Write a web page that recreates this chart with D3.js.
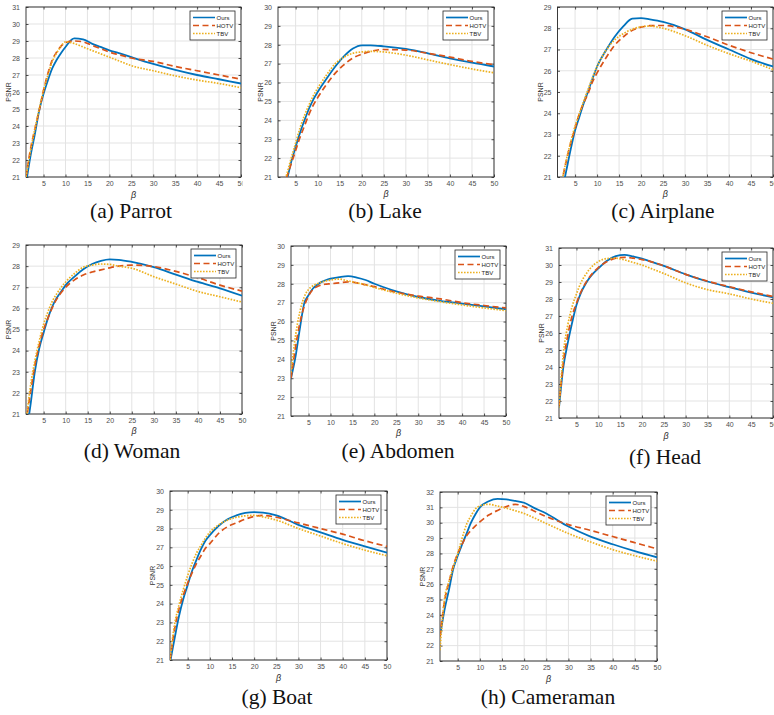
<!doctype html>
<html>
<head>
<meta charset="utf-8">
<script src="https://d3js.org/d3.v7.min.js"></script>
<style>
    body { margin: 0; background: #fff; }
    .tick text { fill: #4d4d4d; font-family: Arial, "Liberation Sans", sans-serif; font-size: 7px; }
    .caption { font-family: "Times New Roman", "Liberation Serif", serif; font-size: 21.5px; fill: #111; }
</style>
</head>
<body>
<svg width="774" height="715"></svg>
<script>
var beta = [1, 2, 3, 4, 5, 6, 7, 8, 9, 10, 12, 14, 16, 18, 20, 22, 25, 30, 35, 40, 45, 50];
var seriesNames = ["Ours", "HOTV", "TBV"];
var xTicks = [5, 10, 15, 20, 25, 30, 35, 40, 45, 50];

var parrotOurs = [20.6, 22.2, 23.5, 24.9, 25.9, 26.7, 27.4, 27.9, 28.3, 28.65, 29.15, 29.1, 28.85, 28.65, 28.45, 28.3, 28.05, 27.65, 27.3, 27.0, 26.75, 26.5];
var parrotHOTV = [21.0, 22.6, 23.8, 24.9, 26.1, 27.1, 27.9, 28.35, 28.7, 28.9, 29.0, 28.95, 28.75, 28.55, 28.35, 28.2, 28.0, 27.8, 27.5, 27.25, 27.0, 26.75];
var parrotTBV = [21.0, 22.5, 23.8, 25.0, 26.1, 27.0, 27.8, 28.3, 28.7, 28.95, 28.85, 28.65, 28.45, 28.25, 28.05, 27.85, 27.55, 27.25, 26.95, 26.7, 26.5, 26.25];

var lakeOurs = [19.4, 20.2, 20.85, 21.8, 22.6, 23.35, 24.0, 24.6, 25.1, 25.5, 26.2, 26.85, 27.4, 27.8, 27.97, 27.97, 27.92, 27.78, 27.55, 27.28, 27.05, 26.85];
var lakeHOTV = [19.5, 20.3, 21.0, 21.7, 22.4, 23.1, 23.7, 24.3, 24.8, 25.2, 25.9, 26.5, 26.95, 27.3, 27.5, 27.65, 27.75, 27.72, 27.55, 27.35, 27.12, 26.95];
var lakeTBV = [19.7, 20.4, 21.15, 22.0, 22.8, 23.6, 24.25, 24.8, 25.3, 25.7, 26.4, 27.0, 27.35, 27.55, 27.62, 27.65, 27.62, 27.45, 27.2, 26.95, 26.72, 26.52];

var airplaneOurs = [19.3, 20.3, 21.3, 22.3, 23.2, 23.85, 24.5, 25.05, 25.65, 26.2, 26.95, 27.6, 28.1, 28.45, 28.48, 28.42, 28.3, 27.95, 27.45, 27.0, 26.55, 26.2];
var airplaneHOTV = [19.8, 20.8, 21.75, 22.6, 23.3, 24.0, 24.5, 24.95, 25.5, 25.9, 26.6, 27.2, 27.6, 27.9, 28.05, 28.12, 28.13, 27.95, 27.6, 27.2, 26.85, 26.55];
var airplaneTBV = [19.8, 20.8, 21.8, 22.65, 23.4, 24.0, 24.6, 25.15, 25.7, 26.2, 26.95, 27.45, 27.75, 27.95, 28.07, 28.1, 28.0, 27.65, 27.2, 26.8, 26.45, 26.05];

var womanOurs = [20.0, 21.4, 23.0, 24.1, 24.85, 25.55, 26.1, 26.5, 26.8, 27.1, 27.5, 27.85, 28.1, 28.25, 28.32, 28.3, 28.2, 27.95, 27.6, 27.25, 26.95, 26.6];
var womanHOTV = [20.6, 22.0, 23.3, 24.25, 25.0, 25.55, 26.05, 26.45, 26.75, 27.0, 27.35, 27.58, 27.72, 27.82, 27.92, 28.0, 28.05, 27.98, 27.75, 27.45, 27.1, 26.82];
var womanTBV = [20.6, 22.3, 23.5, 24.45, 25.25, 25.85, 26.35, 26.7, 27.0, 27.25, 27.65, 27.95, 28.05, 28.1, 28.08, 28.0, 27.9, 27.5, 27.15, 26.8, 26.55, 26.3];

var abdomenOurs = [23.0, 24.1, 25.6, 26.95, 27.4, 27.75, 27.95, 28.1, 28.2, 28.27, 28.35, 28.4, 28.33, 28.2, 28.0, 27.83, 27.6, 27.3, 27.1, 26.95, 26.8, 26.65];
var abdomenHOTV = [23.0, 24.6, 25.9, 26.8, 27.35, 27.7, 27.85, 27.95, 27.98, 28.0, 28.05, 28.1, 28.05, 27.95, 27.85, 27.72, 27.55, 27.35, 27.2, 27.0, 26.85, 26.72];
var abdomenTBV = [23.3, 25.2, 26.5, 27.3, 27.7, 27.9, 28.0, 28.1, 28.15, 28.2, 28.25, 28.15, 28.05, 27.95, 27.8, 27.68, 27.5, 27.25, 27.05, 26.88, 26.72, 26.58];

var headOurs = [21.6, 24.0, 25.4, 26.6, 27.65, 28.35, 28.85, 29.25, 29.55, 29.8, 30.25, 30.52, 30.6, 30.5, 30.38, 30.2, 29.95, 29.45, 29.03, 28.7, 28.38, 28.1];
var headHOTV = [21.7, 24.3, 25.85, 27.0, 27.75, 28.4, 28.9, 29.3, 29.6, 29.85, 30.2, 30.4, 30.45, 30.4, 30.32, 30.2, 29.95, 29.45, 29.05, 28.72, 28.42, 28.15];
var headTBV = [21.6, 24.8, 26.45, 27.55, 28.3, 28.95, 29.4, 29.75, 30.02, 30.2, 30.38, 30.4, 30.3, 30.15, 30.0, 29.8, 29.5, 28.95, 28.55, 28.3, 28.0, 27.75];

var boatOurs = [20.85, 22.1, 23.3, 24.25, 25.0, 25.75, 26.35, 26.9, 27.35, 27.65, 28.15, 28.5, 28.7, 28.83, 28.88, 28.85, 28.7, 28.2, 27.8, 27.4, 27.05, 26.72];
var boatHOTV = [21.0, 22.6, 23.7, 24.45, 25.1, 25.65, 26.15, 26.55, 26.95, 27.2, 27.75, 28.1, 28.3, 28.5, 28.65, 28.7, 28.6, 28.3, 28.0, 27.7, 27.35, 27.05];
var boatTBV = [21.0, 22.85, 23.9, 24.75, 25.5, 26.15, 26.7, 27.1, 27.5, 27.8, 28.2, 28.45, 28.6, 28.68, 28.7, 28.62, 28.45, 28.0, 27.6, 27.2, 26.85, 26.55];

var cameramanOurs = [22.6, 24.3, 25.6, 27.0, 27.85, 28.6, 29.3, 30.0, 30.55, 31.0, 31.4, 31.55, 31.52, 31.42, 31.3, 31.0, 30.6, 29.75, 29.1, 28.6, 28.15, 27.75];
var cameramanHOTV = [22.6, 24.85, 26.1, 27.2, 28.0, 28.6, 29.15, 29.5, 29.8, 30.05, 30.5, 30.8, 31.05, 31.2, 31.05, 30.8, 30.4, 29.88, 29.5, 29.1, 28.7, 28.3];
var cameramanTBV = [21.7, 25.0, 26.15, 27.1, 28.0, 29.0, 29.9, 30.45, 30.9, 31.1, 31.2, 31.08, 30.95, 30.78, 30.6, 30.35, 29.95, 29.3, 28.75, 28.25, 27.85, 27.5];

var colors = ["#0072BD", "#D95319", "#EDB120"];
var dashes = [null, "6,3.5", "1.6,1.4"];

// box = [left, top, right, bottom] of each plot area; clip = visible x range of the panel image
var panels = [
    {cap: "(a) Parrot", ymax: 31, data: [parrotOurs, parrotHOTV, parrotTBV], box: [26, 7, 241, 177], clip: [0, 242.5], capPos: [131, 218], betaGap: 21},
    {cap: "(b) Lake", ymax: 30, data: [lakeOurs, lakeHOTV, lakeTBV], box: [278, 7, 494, 177], clip: [250, 510], capPos: [385, 218], betaGap: 20},
    {cap: "(c) Airplane", ymax: 29, data: [airplaneOurs, airplaneHOTV, airplaneTBV], box: [557.5, 7, 773, 177], clip: [515, 774], capPos: [663, 218], betaGap: 20},
    {cap: "(d) Woman", ymax: 29, data: [womanOurs, womanHOTV, womanTBV], box: [26, 245, 242, 414], clip: [0, 250], capPos: [132, 458], betaGap: 20},
    {cap: "(e) Abdomen", ymax: 30, data: [abdomenOurs, abdomenHOTV, abdomenTBV], box: [291, 246, 506, 416], clip: [255, 515], capPos: [398, 458], betaGap: 20},
    {cap: "(f) Head", ymax: 31, data: [headOurs, headHOTV, headTBV], box: [559, 248, 773, 418], clip: [520, 774], capPos: [665, 464], betaGap: 21},
    {cap: "(g) Boat", ymax: 30, data: [boatOurs, boatHOTV, boatTBV], box: [170, 491, 387, 660], clip: [140, 400], capPos: [277, 704], betaGap: 21},
    {cap: "(h) Cameraman", ymax: 32, data: [cameramanOurs, cameramanHOTV, cameramanTBV], box: [440, 492, 657, 661], clip: [405, 680], capPos: [548, 704], betaGap: 21}
];

var svg = d3.select("svg");
var defs = svg.append("defs");

panels.forEach(function(p, i) {
    var L = p.box[0], T = p.box[1], R = p.box[2], B = p.box[3];

    defs.append("clipPath").attr("id", "panel" + i)
        .append("rect").attr("x", p.clip[0]).attr("y", T - 10)
        .attr("width", p.clip[1] - p.clip[0]).attr("height", 260);
    defs.append("clipPath").attr("id", "plot" + i)
        .append("rect").attr("x", L).attr("y", T).attr("width", R - L).attr("height", B - T);

    var g = svg.append("g").attr("clip-path", "url(#panel" + i + ")");

    var x = d3.scaleLinear().domain([1, 50]).range([L, R]);
    var y = d3.scaleLinear().domain([21, p.ymax]).range([B, T]);
    var yTicks = d3.range(21, p.ymax + 1);

    // grid
    g.append("g").selectAll("line").data(xTicks).enter().append("line")
        .attr("x1", function(d) { return x(d); }).attr("x2", function(d) { return x(d); })
        .attr("y1", T).attr("y2", B)
        .attr("stroke", "#e3e3e3").attr("stroke-width", 1);
    g.append("g").selectAll("line").data(yTicks).enter().append("line")
        .attr("x1", L).attr("x2", R)
        .attr("y1", function(d) { return y(d); }).attr("y2", function(d) { return y(d); })
        .attr("stroke", "#e3e3e3").attr("stroke-width", 1);

    // axes, ticks pointing inwards
    var ax = g.append("g").attr("transform", "translate(0," + B + ")")
        .call(d3.axisBottom(x).tickValues(xTicks).tickSize(-2.5).tickPadding(4));
    g.append("g").attr("transform", "translate(" + L + ",0)")
        .call(d3.axisLeft(y).tickValues(yTicks).tickSize(-2.5).tickPadding(6));
    g.append("g").attr("transform", "translate(0," + T + ")")
        .call(d3.axisTop(x).tickValues(xTicks).tickSize(-2.5).tickFormat(""));
    g.append("g").attr("transform", "translate(" + R + ",0)")
        .call(d3.axisRight(y).tickValues(yTicks).tickSize(-2.5).tickFormat(""));
    g.selectAll(".domain").remove();
    g.selectAll(".tick line").attr("stroke", "#262626").attr("stroke-width", 0.8);
    ax.selectAll("text").attr("dy", "0.71em");

    g.append("rect").attr("x", L).attr("y", T).attr("width", R - L).attr("height", B - T)
        .attr("fill", "none").attr("stroke", "#262626").attr("stroke-width", 0.9);

    // labels
    g.append("text").attr("x", (L + R) / 2).attr("y", B + p.betaGap)
        .attr("text-anchor", "middle").attr("font-family", "'Liberation Sans', Arial, sans-serif")
        .attr("font-style", "italic").attr("font-size", 9).attr("fill", "#333").text("β");
    g.append("text")
        .attr("transform", "translate(" + (L - 15) + "," + ((T + B) / 2) + ") rotate(-90)")
        .attr("text-anchor", "middle").attr("font-family", "Arial, 'Liberation Sans', sans-serif")
        .attr("font-size", 7).attr("fill", "#333").text("PSNR");

    // curves
    var line = d3.line()
        .x(function(d, k) { return x(beta[k]); })
        .y(function(d) { return y(d); })
        .curve(d3.curveMonotoneX);
    var lines = g.append("g").attr("clip-path", "url(#plot" + i + ")");
    [0, 1, 2].forEach(function(s) {
        lines.append("path").datum(p.data[s])
            .attr("d", line)
            .attr("fill", "none")
            .attr("stroke", colors[s])
            .attr("stroke-width", s == 0 ? 1.8 : 1.7)
            .attr("stroke-dasharray", dashes[s]);
    });

    // legend
    var lw = 45, lh = 29;
    var lg = g.append("g").attr("transform", "translate(" + (R - 6 - lw) + "," + (T + 4) + ")");
    lg.append("rect").attr("width", lw).attr("height", lh)
        .attr("fill", "#fff").attr("stroke", "#262626").attr("stroke-width", 0.8);
    seriesNames.forEach(function(n, s) {
        var yy = 6.5 + s * 8;
        lg.append("line").attr("x1", 3).attr("x2", 25).attr("y1", yy).attr("y2", yy)
            .attr("stroke", colors[s]).attr("stroke-width", 1.7)
            .attr("stroke-dasharray", dashes[s]);
        lg.append("text").attr("x", 26.5).attr("y", yy).attr("dy", "0.35em")
            .attr("font-family", "Arial, 'Liberation Sans', sans-serif")
            .attr("font-size", 6).attr("fill", "#262626").text(n);
    });

    svg.append("text").attr("class", "caption")
        .attr("x", p.capPos[0]).attr("y", p.capPos[1])
        .attr("text-anchor", "middle").text(p.cap);
});
</script>
</body>
</html>
